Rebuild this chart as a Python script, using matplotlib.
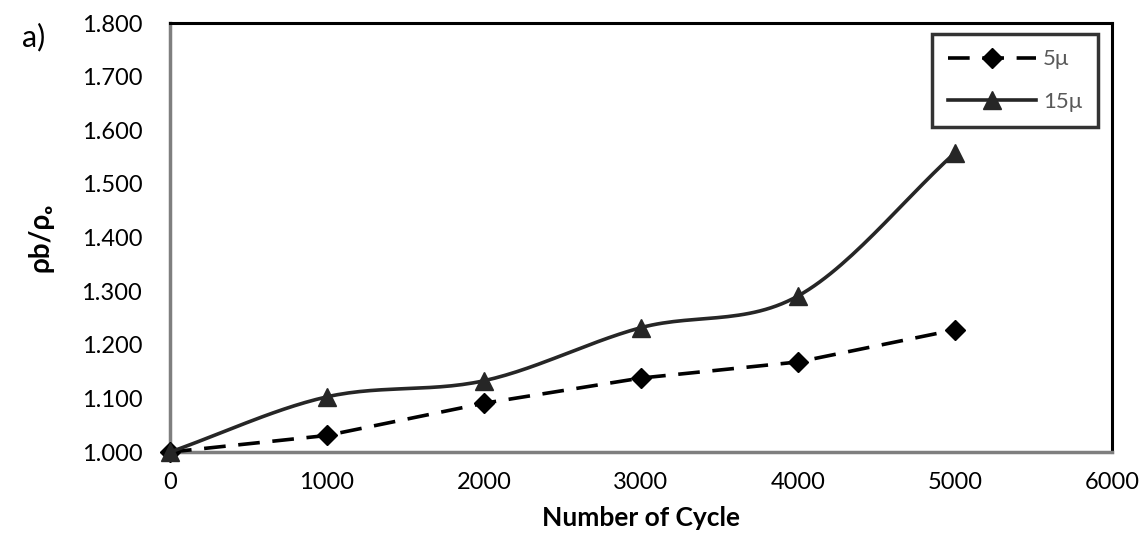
import numpy as np
import matplotlib
matplotlib.use("Agg")
import matplotlib.pyplot as plt

cycles = [0, 1000, 2000, 3000, 4000, 5000]
ratio_5u = [1.000, 1.031, 1.091, 1.138, 1.168, 1.228]
ratio_15u = [1.000, 1.103, 1.133, 1.232, 1.291, 1.558]
series_labels = ["5\u03bc", "15\u03bc"]
x_ticks = [0, 1000, 2000, 3000, 4000, 5000, 6000]
y_ticks = [1.0, 1.1, 1.2, 1.3, 1.4, 1.5, 1.6, 1.7, 1.8]

plt.rcParams["font.family"] = ["Lato", "DejaVu Sans"]


def smooth(xs, ys, n=30):
    # Catmull-Rom curve like Excel's "smoothed line"
    xs = np.asarray(xs, float)
    ys = np.asarray(ys, float)
    px = np.concatenate([[2 * xs[0] - xs[1]], xs, [2 * xs[-1] - xs[-2]]])
    py = np.concatenate([[2 * ys[0] - ys[1]], ys, [2 * ys[-1] - ys[-2]]])
    outx, outy = [], []
    for i in range(1, len(px) - 2):
        t = np.linspace(0, 1, n)
        for p, out in ((px, outx), (py, outy)):
            p0, p1, p2, p3 = p[i - 1], p[i], p[i + 1], p[i + 2]
            out.extend(0.5 * (2 * p1 + (-p0 + p2) * t
                              + (2 * p0 - 5 * p1 + 4 * p2 - p3) * t ** 2
                              + (-p0 + 3 * p1 - 3 * p2 + p3) * t ** 3))
    return outx, outy


fig = plt.figure(figsize=(11.44, 5.44), dpi=100)
ax = fig.add_axes([0.1486, 0.169, 0.8234, 0.7887])

ax.plot(cycles, ratio_5u, color="black", lw=2.6, ls=(0, (6, 3.5)),
        marker="D", ms=10, label=series_labels[0], clip_on=False, zorder=3)
sx, sy = smooth(cycles, ratio_15u)
ax.plot(sx, sy, color="#262626", lw=2.6, zorder=3)
ax.plot(cycles, ratio_15u, color="#262626", lw=0, marker="^", ms=13,
        clip_on=False, zorder=4)
ax.plot([], [], color="#262626", lw=2.6, marker="^", ms=13, label=series_labels[1])

ax.set_xlim(0, 6000)
ax.set_ylim(1.0, 1.8)
ax.set_xticks(x_ticks)
ax.set_yticks(y_ticks)
ax.set_yticklabels(["%.3f" % v for v in y_ticks])
ax.tick_params(labelsize=17, length=0)
ax.tick_params(axis="x", pad=14)
ax.tick_params(axis="y", pad=20)

for s in ("top", "right"):
    ax.spines[s].set_linewidth(2.2)
    ax.spines[s].set_color("black")
for s in ("left", "bottom"):
    ax.spines[s].set_linewidth(2.5)
    ax.spines[s].set_color("#7f7f7f")

ax.set_xlabel("Number of Cycle", fontsize=19, fontweight="bold", labelpad=10)
ax.set_ylabel("\u03c1b/\u03c1\u2092", fontsize=20, fontweight="bold", labelpad=20)

leg = ax.legend(loc="upper right", bbox_to_anchor=(0.985, 0.975), fontsize=16,
                frameon=True, fancybox=False, borderpad=0.7, labelspacing=1.0,
                handlelength=4.0, handletextpad=0.3, borderaxespad=0)
leg.get_frame().set_edgecolor("black")
leg.get_frame().set_linewidth(2.5)
for t in leg.get_texts():
    t.set_color("#595959")

fig.text(0.019, 0.915, "a)", fontsize=22)

fig.savefig("out.png", dpi=100)
